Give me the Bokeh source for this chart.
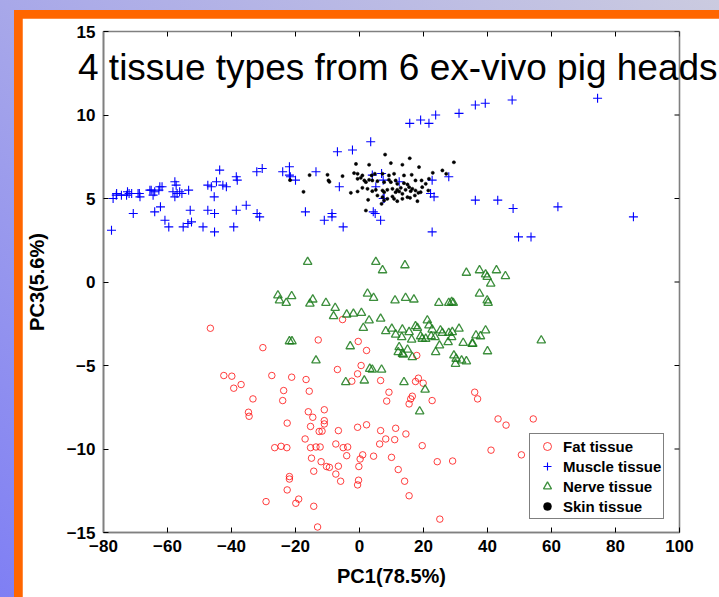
import math
from bokeh.plotting import figure
from bokeh.models import LinearAxis, FixedTicker, Range1d, Div
from bokeh.layouts import column
from bokeh.embed import file_html
from bokeh.resources import INLINE

# ---------------- data ----------------
title_text = "4 tissue types from 6 ex-vivo pig heads"
x_label = "PC1(78.5%)"
y_label = "PC3(5.6%)"
x_ticks = [-80, -60, -40, -20, 0, 20, 40, 60, 80, 100]
y_ticks = [-15, -10, -5, 0, 5, 10, 15]
series_names = ["Fat tissue", "Muscle tissue", "Nerve tissue", "Skin tissue"]

fat_x = [-46.6, -30.2, -12.9, -5.3, -0.4, 2.2, -6.9, 0.5, -0.6, -2.4, 6.6, -42.4, -39.9, -39.3, -37.0,
         -27.4, -21.2, -16.7, -23.7, -24.0, -15.7, -33.3, -34.7, -34.5, -22.6, -16.0, -14.6, -11.0, -11.0,
         -11.0, -15.3, -12.6, -11.7, -6.6, -0.6, 2.2, 6.6, -17.0, -26.5, -24.5, -22.7, -15.3, -13.6, -12.3,
         -7.4, -5.1, -3.7, 6.3, -15.0, -4.0, 1.0, 0.2, 4.4, -12.0, -10.3, -9.4, -6.6, -0.2, -14.3, -7.4,
         -5.9, -21.9, -21.9, -0.3, -0.6, -22.6, -29.2, -19.9, -19.0, -14.3, -13.1,
         17.9, 9.2, 8.5, 18.4, 17.5, 19.9, 16.5, 16.0, 15.5, 22.7, 36.0, 36.9, 43.3, 45.8, 54.3,
         11.3, 14.5, 8.2, 11.0, 19.6, 41.1, 50.6, 10.0, 24.3, 29.1, 12.1, 14.1, 15.5, 25.1]
fat_y = [-2.77, -3.93, -3.47, -2.25, -3.56, -4.1, -5.24, -5.0, -5.5, -5.94, -5.9, -5.6, -5.64, -6.36, -6.14,
         -5.6, -5.7, -5.84, -6.5, -7.1, -6.54, -7.0, -7.8, -8.04, -8.45, -7.77, -8.1, -7.65, -8.3,
         -8.5, -8.65, -8.95, -8.93, -8.9, -8.7, -8.55, -8.9, -9.4, -9.92, -9.84, -9.92, -9.92, -9.88, -9.88,
         -9.7, -9.92, -9.88, -9.7, -10.55, -10.4, -10.35, -10.6, -10.43, -10.76, -11.05, -11.1, -11.03, -11.05, -11.33, -11.5,
         -11.93, -11.65, -11.8, -11.87, -12.15, -12.45, -13.15, -13.25, -13.0, -13.43, -14.67,
         -4.4, -6.6, -7.13, -5.76, -5.96, -6.06, -6.84, -7.0, -7.3, -7.1, -6.6, -7.0, -8.2, -8.57, -8.2,
         -8.76, -9.1, -9.4, -9.44, -9.8, -10.07, -10.35, -10.5, -10.76, -10.72, -11.23, -11.93, -12.8, -14.2]

muscle_x = [-77.5, -77.0, -76.0, -75.9, -74.4, -72.8, -72.5, -72.0, -71.2, -69.2, -68.8, -68.6, -65.5, -65.1,
            -64.5, -64.0, -62.7, -62.4, -61.7, -58.3, -57.7, -57.3, -57.0, -57.7, -56.2, -55.5, -53.4,
            -47.4, -46.3, -44.7, -43.7, -41.6, -42.7, -45.4, -38.5, -38.2, -32.1, -30.4, -24.0, -21.9, -21.9,
            -21.6, -20.0, -13.6, -6.9, -2.2, 3.5, -6.3, 6.9, 7.4,
            -70.7, -64.0, -62.2, -60.8, -59.6, -55.1, -53.6, -52.5, -52.9, -48.9, -47.4, -45.3, -45.3, -39.3,
            -38.5, -35.4, -32.0, -31.2, -16.9, -11.0, -8.6, -8.6, -5.1, 4.3, 4.9, 6.6, 7.4,
            15.7, 19.1, 21.7, 23.8, 31.1, 36.2, 39.3, 47.7, 74.4,
            4.0, 12.4, 5.1, 7.7, 22.7, 22.2, 23.3, 27.9, 36.2, 43.2, 48.0, 62.0, 85.6, 49.7, 53.6, 22.7]
muscle_y = [3.1, 5.0, 5.2, 5.3, 5.2, 5.2, 5.4, 5.3, 5.3, 5.3, 5.3, 5.1, 5.5, 5.5,
            5.2, 5.4, 5.5, 5.7, 5.7, 5.4, 6.0, 5.8, 5.3, 5.1, 5.4, 5.3, 5.5,
            5.8, 5.7, 6.0, 6.7, 5.7, 5.8, 5.1, 6.3, 6.1, 6.6, 6.8, 6.6, 6.9, 6.4,
            6.3, 6.1, 6.6, 7.8, 7.9, 8.4, 5.7, 6.5, 6.1,
            4.1, 4.2, 4.5, 3.7, 3.3, 3.3, 3.5, 3.6, 4.3, 3.3, 4.3, 4.1, 3.0, 3.3,
            4.3, 4.6, 4.1, 3.9, 4.2, 3.7, 4.1, 3.9, 3.3, 4.2, 4.1, 3.7, 5.0,
            9.5, 9.7, 9.5, 10.0, 10.1, 10.6, 10.7, 10.9, 11.0,
            6.4, 6.0, 5.7, 5.0, 6.1, 5.3, 5.1, 6.3, 4.9, 4.9, 4.4, 4.5, 3.9, 2.7, 2.7, 3.0]

nerve_x = [-16.2, 5.1, 7.2, 14.2, 33.4, 37.5, 39.4, 39.9, 42.8, 45.6, 41.0,
           -25.5, -25.0, -22.9, -21.2, -15.5, -14.6, -10.5, -7.6, -8.1, -4.0, -1.9, 0.6, 2.5, 4.4, 3.0,
           1.2, 6.6, 11.1, 14.4, 17.0, 24.8, 27.9, 28.8, 29.3, 37.5, 39.9, 40.2,
           8.2, 10.1, 11.3, 13.4, 13.2, 15.5, 16.3, 17.5, 18.1, 19.1, 19.6, 21.2, 21.7, 22.7, 22.4, 20.7,
           23.6, 25.3, 25.9, 25.0, 27.9, 29.0, 28.8, 27.7, 31.1, 32.4, 35.2, 36.4, 37.8, 39.4, 40.0, 56.8,
           23.8, 29.5, 30.2, 31.9, 33.4, 30.0, 12.4, 12.1, 13.4, 15.0, 16.5, -2.9, -13.6, 3.2, 6.9,
           -21.9, -21.1, 4.0, 13.9, 20.5, 18.8, -4.3, 1.5, 13.7, 35.4]
nerve_y = [1.2, 1.2, 0.7, 1.0, 0.55, 0.7, 0.45, 0.3, 0.7, 0.35, -0.1,
           -0.8, -1.1, -1.25, -0.85, -1.3, -1.05, -1.25, -1.55, -2.05, -1.95, -1.9, -1.85, -0.7, -0.95, -2.3,
           -2.75, -2.2, -1.1, -0.95, -1.05, -1.25, -1.25, -1.2, -1.25, -0.7, -1.1, -1.25,
           -2.95, -2.8, -3.15, -2.85, -3.3, -3.0, -3.45, -2.65, -2.75, -3.25, -3.4, -2.3, -2.6, -2.85, -3.25, -3.4,
           -3.3, -2.9, -3.05, -3.8, -3.05, -3.0, -3.3, -3.6, -2.8, -3.65, -3.7, -3.2, -3.25, -2.9, -4.15, -3.5,
           -4.2, -4.4, -4.6, -4.7, -4.75, -4.9, -3.9, -4.2, -4.3, -4.05, -4.5, -3.85, -4.7, -5.2, -5.25,
           -3.55, -3.55, -5.25, -6.0, -6.45, -7.75, -6.0, -5.9, -4.35, -3.7]

skin_x = [-1.1, 3.0, 9.8, 13.4, 18.6, 8.0, 15.7, 29.5, -10.0, -5.3, -1.7, -0.6, 0.9, 3.8, 4.8, 7.2,
          9.2, 10.8, 13.9, 16.3, 22.9, 25.9, 27.1, -9.7, -0.6, 0.4, 1.5, 2.0, 3.0, 4.0, 5.6, 7.7,
          9.2, 9.8, 11.3, 11.8, 13.9, 15.0, 17.5, 19.4, 20.7, 21.7, -2.7, -0.6, 0.9, 2.5, 4.0, 5.1,
          7.2, 7.7, 8.7, 10.3, 11.3, 11.8, 12.4, 12.9, 13.4, 14.4, 15.5, 16.0, 16.5, 17.5, 18.4, 19.1,
          19.6, 21.5, 2.7, 5.6, 7.2, 7.7, 8.7, 10.3, 10.8, 11.8, 13.4, 15.0, 15.8, 18.1, 17.3, 6.9,
          2.0, -17.5, -15.6, -21.7, -9.4]
skin_y = [7.07, 7.02, 7.12, 7.02, 6.88, 7.63, 7.41, 7.17, 6.42, 6.34, 6.52, 6.48, 6.38, 6.38, 6.48, 6.48,
          6.38, 6.48, 6.38, 6.42, 6.54, 6.68, 6.48, 6.08, 6.18, 6.24, 6.08, 5.98, 6.12, 6.08, 6.04, 5.98,
          6.12, 5.98, 6.08, 5.88, 5.92, 5.84, 6.08, 6.08, 5.88, 6.18, 5.34, 5.42, 5.64, 5.58, 5.44, 5.52,
          5.48, 5.38, 5.52, 5.58, 5.38, 5.52, 5.42, 5.64, 5.28, 5.52, 5.68, 5.44, 5.58, 5.48, 5.34, 5.38,
          5.68, 5.48, 4.92, 5.18, 5.08, 4.88, 4.98, 5.12, 4.98, 4.84, 4.98, 5.08, 5.04, 4.84, 5.18, 4.68,
          4.28, 5.4, 6.4, 6.1, 6.0]

# ---------------- figure ----------------
FONT = "Liberation Sans"
AXIS_GRAY = "#808080"

p = figure(width=697, height=579, x_range=Range1d(-80, 100), y_range=Range1d(-15, 15),
           output_backend="svg", toolbar_location=None,
           min_border_left=79, min_border_right=40, min_border_top=13, min_border_bottom=65,
           background_fill_color="white", border_fill_color="white",
           outline_line_color=AXIS_GRAY, outline_line_width=1.6,
           x_axis_location=None, y_axis_location=None)
p.xgrid.visible = False
p.ygrid.visible = False


def style_axis(ax):
    ax.axis_line_color = AXIS_GRAY
    ax.axis_line_width = 1.6
    ax.major_tick_line_color = "black"
    ax.major_tick_line_width = 1
    ax.major_tick_in = 5
    ax.major_tick_out = 0
    ax.minor_tick_line_color = None
    ax.major_label_text_font = FONT
    ax.major_label_text_font_style = "bold"
    ax.major_label_text_color = "black"
    ax.major_label_text_font_size = "17px"
    ax.axis_label_text_font = FONT
    ax.axis_label_text_font_style = "bold"
    ax.axis_label_text_font_size = "20px"
    ax.axis_label_text_color = "black"


xb = LinearAxis(ticker=FixedTicker(ticks=x_ticks), axis_label=x_label)
style_axis(xb)
xb.major_label_standoff = 7
xb.axis_label_standoff = 10
p.add_layout(xb, "below")

yl = LinearAxis(ticker=FixedTicker(ticks=y_ticks), axis_label=y_label)
style_axis(yl)
yl.major_label_standoff = 8
yl.axis_label_standoff = 16
p.add_layout(yl, "left")

# inward ticks on the top and right edges of the box (drawn from the tick arrays)
y_top = p.y_range.end
x_right = p.x_range.end
p.ray(x=x_ticks, y=[y_top] * len(x_ticks), length=5, length_units="screen",
      angle=-math.pi / 2, line_color="black", line_width=1)
p.ray(x=[x_right] * len(y_ticks), y=y_ticks, length=5, length_units="screen",
      angle=math.pi, line_color="black", line_width=1)

p.scatter(fat_x, fat_y, marker="circle", size=6.5, fill_color=None,
          line_color="#ff0000", line_alpha=0.75, line_width=1, legend_label=series_names[0])
p.scatter(muscle_x, muscle_y, marker="cross", size=9, line_color="#0000ff",
          line_width=1.1, legend_label=series_names[1])
p.scatter(nerve_x, nerve_y, marker="triangle", size=8.5, fill_color=None,
          line_color="#1a7a1a", line_alpha=0.85, line_width=1.3, legend_label=series_names[2])
p.scatter(skin_x, skin_y, marker="circle", size=3.2, fill_color="black",
          line_color="black", line_width=0.5, legend_label=series_names[3])

lg = p.legend[0]
lg.location = (426, 13)
lg.border_line_color = "black"
lg.border_line_width = 1
lg.background_fill_color = "white"
lg.background_fill_alpha = 1
lg.padding = 2
lg.spacing = 0
lg.margin = 0
lg.label_height = 20
lg.glyph_height = 20
lg.glyph_width = 30
lg.label_standoff = 1
lg.label_text_font = FONT
lg.label_text_font_style = "bold"
lg.label_text_font_size = "15px"
lg.label_text_color = "black"

title_div = Div(text=title_text, styles={
    "position": "absolute", "left": "73px", "top": "44px", "z-index": "10",
    "font-family": FONT, "font-size": "37px", "line-height": "37px",
    "color": "black", "white-space": "nowrap", "pointer-events": "none"})

inner = column(p, styles={"background-color": "#ff6600", "padding-left": "8px", "padding-top": "8px"})
outer = column(inner, title_div, styles={
    "position": "relative",
    "background": "linear-gradient(to bottom left, #cbcbe0 0%, #a8a8e9 50%, #7f7ff4 100%)",
    "padding-left": "14px", "padding-top": "10px"})

open("out.html", "w").write(file_html(outer, INLINE))
